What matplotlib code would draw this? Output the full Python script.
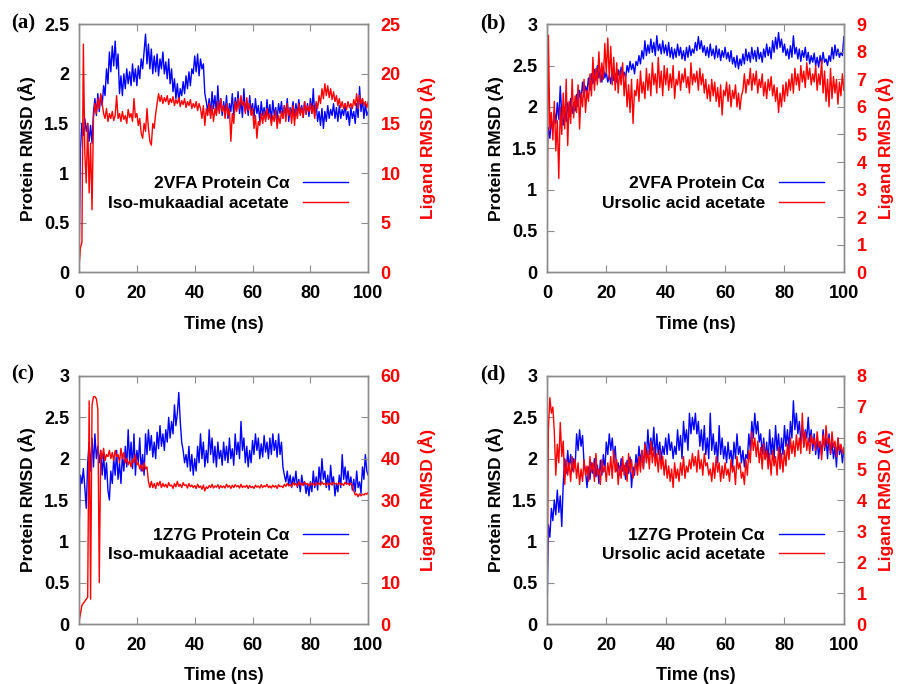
import numpy as np
import matplotlib.pyplot as plt
from matplotlib.ticker import FormatStrFormatter

plt.rcParams['font.family'] = ['Liberation Sans', 'DejaVu Sans']
plt.rcParams['font.weight'] = 'bold'
plt.rcParams['axes.labelweight'] = 'bold'

# time axis, one frame read every 0.5 ns
time_ns = np.arange(0, 100.5, 0.5)

# (a) 2VFA / Iso-mukaadial acetate
a_protein = [
    0.00, 1.25, 1.50, 1.38, 1.55, 1.42, 1.50, 1.32, 1.48, 1.30, 1.62, 1.75, 1.58, 1.80, 1.62, 1.78, 1.68, 1.88, 1.78, 2.05,
    1.90, 2.22, 2.02, 2.28, 2.08, 2.33, 2.05, 2.20, 1.80, 1.98, 1.78, 2.00, 1.85, 2.05, 1.90, 2.02, 1.88, 2.10, 1.92, 2.05,
    1.88, 2.08, 1.95, 2.15, 2.05, 2.22, 2.40, 2.10, 2.30, 2.05, 2.25, 2.00, 2.18, 2.02, 2.20, 1.98, 2.15, 2.05, 2.22, 2.00,
    2.12, 1.95, 2.15, 1.90, 2.05, 1.82, 1.95, 1.75, 1.90, 1.72, 1.85, 1.78, 1.92, 1.80, 1.98, 1.85, 2.02, 1.88, 2.05, 2.00,
    2.18, 2.02, 2.20, 1.98, 2.15, 2.05, 2.10, 1.80, 1.72, 1.62, 1.75, 1.58, 1.82, 1.65, 1.78, 1.60, 1.88, 1.62, 1.75, 1.58,
    1.72, 1.60, 1.78, 1.55, 1.70, 1.62, 1.80, 1.58, 1.76, 1.64, 1.82, 1.60, 1.74, 1.56, 1.85, 1.62, 1.72, 1.58, 1.78, 1.62,
    1.70, 1.55, 1.75, 1.60, 1.68, 1.52, 1.72, 1.58, 1.66, 1.54, 1.74, 1.57, 1.69, 1.52, 1.73, 1.58, 1.66, 1.54, 1.70, 1.60,
    1.72, 1.55, 1.68, 1.58, 1.75, 1.52, 1.66, 1.60, 1.72, 1.55, 1.70, 1.58, 1.74, 1.60, 1.68, 1.56, 1.72, 1.59, 1.70, 1.57,
    1.75, 1.60, 1.85, 1.58, 1.70, 1.52, 1.62, 1.48, 1.65, 1.45, 1.62, 1.52, 1.68, 1.55, 1.64, 1.58, 1.70, 1.55, 1.66, 1.52,
    1.68, 1.55, 1.64, 1.58, 1.70, 1.54, 1.62, 1.48, 1.66, 1.55, 1.62, 1.50, 1.70, 1.56, 1.87, 1.62, 1.75, 1.55, 1.70, 1.58,
    1.62,
]
a_ligand = [
    0.5, 2.5, 3.0, 23.0, 12.0, 9.0, 15.0, 8.0, 13.0, 6.3, 15.5, 17.0, 16.0, 17.5, 16.5, 18.0, 17.0, 16.0, 15.5, 16.5,
    15.2, 16.0, 15.5, 16.2, 15.3, 15.8, 17.8, 15.5, 16.0, 15.2, 16.2, 15.4, 15.8, 15.0, 16.4, 15.6, 16.0, 15.2, 17.5, 15.6,
    16.0, 14.8, 15.5, 14.0, 13.5, 15.0, 14.2, 16.5, 14.5, 13.2, 12.8, 15.0, 14.5, 16.0, 17.0, 18.0, 17.2, 17.8, 17.0, 17.6,
    17.2, 17.8, 16.9, 17.5, 17.1, 17.7, 16.8, 17.4, 17.0, 17.6, 16.7, 17.3, 16.9, 17.5, 16.6, 17.2, 16.8, 17.4, 16.5, 17.0,
    16.6, 17.2, 16.3, 17.0, 16.5, 15.5, 16.8, 14.8, 16.5, 15.8, 17.0, 15.5, 16.8, 15.2, 16.5, 15.8, 17.2, 16.0, 17.5, 16.2,
    16.8, 15.5, 17.0, 15.8, 16.5, 13.2, 16.0, 15.0, 17.2, 16.2, 17.5, 16.5, 17.8, 16.8, 17.2, 16.0, 17.6, 16.3, 17.0, 15.8,
    16.5, 14.5, 15.8, 13.5, 15.2, 14.8, 16.0, 15.0, 16.2, 15.2, 16.5, 15.4, 16.0, 14.8, 15.8, 15.2, 16.3, 14.5, 15.8, 15.0,
    16.2, 15.5, 16.8, 15.2, 17.0, 15.8, 16.5, 15.0, 16.8, 14.8, 16.5, 15.5, 17.0, 15.8, 16.6, 15.6, 17.2, 16.0, 16.8, 16.2,
    17.0, 16.0, 16.8, 15.5, 17.2, 16.5, 17.8, 17.0, 18.5, 17.5, 19.0, 17.8, 18.8, 17.6, 18.5, 17.4, 18.2, 17.2, 17.8, 16.8,
    17.5, 16.6, 17.2, 16.5, 17.0, 16.4, 17.2, 16.6, 17.0, 16.5, 17.4, 16.8, 18.0, 16.5, 17.8, 17.0, 17.5, 16.8, 17.2, 16.6,
    17.2,
]

# (b) 2VFA / Ursolic acid acetate
b_protein = [
    1.50, 1.75, 1.62, 1.85, 1.70, 1.95, 1.80, 2.05, 1.85, 2.25, 1.90, 1.78, 2.00, 1.82, 2.05, 1.88, 2.10, 1.92, 2.05, 1.95,
    2.15, 2.00, 2.20, 2.08, 2.30, 2.12, 2.25, 2.18, 2.35, 2.20, 2.40, 2.28, 2.45, 2.32, 2.50, 2.35, 2.45, 2.30, 2.48, 2.35,
    2.42, 2.30, 2.38, 2.28, 2.45, 2.32, 2.40, 2.30, 2.45, 2.35, 2.48, 2.38, 2.42, 2.35, 2.50, 2.42, 2.55, 2.45, 2.52, 2.40,
    2.55, 2.50, 2.62, 2.52, 2.68, 2.58, 2.80, 2.62, 2.75, 2.65, 2.82, 2.66, 2.78, 2.62, 2.86, 2.68, 2.76, 2.64, 2.80, 2.65,
    2.75, 2.62, 2.78, 2.60, 2.72, 2.58, 2.70, 2.60, 2.76, 2.62, 2.72, 2.58, 2.68, 2.56, 2.72, 2.60, 2.74, 2.62, 2.70, 2.65,
    2.78, 2.68, 2.85, 2.70, 2.80, 2.66, 2.74, 2.62, 2.72, 2.60, 2.76, 2.62, 2.70, 2.58, 2.74, 2.60, 2.70, 2.56, 2.68, 2.60,
    2.72, 2.58, 2.66, 2.55, 2.68, 2.52, 2.60, 2.48, 2.62, 2.46, 2.58, 2.50, 2.64, 2.52, 2.70, 2.56, 2.66, 2.54, 2.72, 2.58,
    2.68, 2.55, 2.72, 2.58, 2.66, 2.54, 2.70, 2.60, 2.76, 2.62, 2.72, 2.58, 2.80, 2.66, 2.84, 2.70, 2.90, 2.72, 2.82, 2.66,
    2.76, 2.62, 2.70, 2.58, 2.74, 2.60, 2.86, 2.64, 2.72, 2.58, 2.70, 2.55, 2.68, 2.60, 2.72, 2.56, 2.66, 2.52, 2.62, 2.54,
    2.65, 2.50, 2.60, 2.48, 2.62, 2.52, 2.66, 2.54, 2.58, 2.50, 2.62, 2.55, 2.72, 2.58, 2.75, 2.62, 2.70, 2.60, 2.66, 2.62,
    2.85,
]
b_ligand = [
    0.0, 8.6, 5.2, 5.8, 4.8, 6.2, 4.4, 5.5, 3.4, 6.0, 5.0, 6.5, 5.2, 7.0, 4.6, 6.2, 5.4, 7.0, 5.6, 6.4,
    5.8, 6.8, 5.2, 6.5, 6.0, 7.0, 5.8, 6.6, 6.2, 7.2, 6.4, 7.8, 6.6, 7.4, 6.8, 8.0, 6.9, 7.6, 7.0, 8.3,
    7.2, 8.5, 7.0, 8.2, 6.8, 7.8, 6.6, 7.6, 6.5, 7.3, 6.8, 7.6, 6.4, 7.2, 6.0, 6.8, 5.8, 7.0, 5.4, 6.6,
    6.4, 7.0, 6.2, 7.3, 6.5, 6.9, 6.3, 7.4, 6.6, 7.2, 6.4, 7.6, 6.8, 7.2, 6.5, 7.8, 6.7, 7.3, 6.4, 7.5,
    6.8, 7.4, 6.6, 7.2, 6.7, 7.5, 6.3, 7.0, 6.8, 7.3, 6.6, 7.2, 6.9, 7.4, 6.7, 7.1, 6.5, 7.6, 6.8, 7.2,
    6.9, 7.3, 6.6, 7.4, 6.8, 7.2, 6.5, 7.0, 6.3, 6.8, 6.2, 7.0, 6.4, 6.9, 6.2, 6.7, 6.0, 6.8, 5.7, 6.6,
    6.4, 6.9, 6.2, 6.8, 6.0, 6.6, 6.3, 6.8, 6.0, 6.5, 5.9, 6.4, 6.6, 7.2, 6.5, 7.0, 6.8, 7.4, 6.6, 7.2,
    6.8, 7.3, 6.5, 7.0, 6.7, 7.2, 6.4, 6.9, 6.3, 7.0, 6.6, 7.1, 6.4, 6.8, 6.2, 6.7, 5.8, 6.5, 6.0, 6.8,
    6.2, 6.9, 6.4, 7.0, 6.6, 7.2, 6.5, 7.4, 6.8, 7.2, 6.6, 7.5, 6.9, 7.3, 6.7, 7.6, 7.0, 7.4, 6.8, 7.2,
    6.9, 7.5, 6.6, 7.2, 6.8, 7.7, 6.5, 7.3, 6.2, 7.0, 6.0, 7.4, 6.3, 7.1, 6.5, 7.0, 6.1, 6.9, 6.4, 7.2,
    6.6,
]

# (c) 1Z7G / Iso-mukaadial acetate
c_protein = [
    1.10, 1.80, 1.70, 1.88, 1.65, 1.40, 1.95, 2.20, 1.85, 2.25, 1.90, 2.30, 2.00, 2.15, 1.95, 2.10, 1.80, 2.05, 1.75, 1.95,
    1.62, 1.50, 1.85, 1.70, 2.00, 1.80, 2.10, 1.75, 1.95, 1.70, 2.05, 1.85, 2.15, 1.90, 2.35, 1.95, 2.20, 1.88, 2.30, 1.80,
    2.10, 1.95, 2.25, 1.85, 2.05, 1.80, 2.30, 2.05, 2.35, 2.10, 2.28, 2.02, 2.20, 2.00, 2.32, 2.12, 2.40, 2.15, 2.30, 2.10,
    2.35, 2.20, 2.50, 2.25, 2.45, 2.30, 2.65, 2.40, 2.55, 2.80, 2.45, 2.20, 2.10, 1.95, 2.05, 1.90, 2.15, 1.85, 2.05, 1.80,
    2.00, 1.85, 2.15, 1.95, 2.30, 2.00, 2.20, 1.90, 2.10, 1.95, 2.35, 2.05, 2.25, 1.95, 2.15, 1.90, 2.20, 2.00, 2.10, 1.92,
    2.20, 1.98, 2.15, 1.95, 2.25, 2.00, 2.12, 1.92, 2.30, 2.05, 2.20, 2.00, 2.45, 2.10, 2.25, 1.95, 2.15, 1.90, 2.10, 1.95,
    2.22, 2.05, 2.30, 2.10, 2.25, 2.00, 2.18, 2.02, 2.28, 2.08, 2.20, 2.00, 2.25, 2.05, 2.30, 2.10, 2.22, 2.02, 2.30, 2.05,
    2.20, 1.90, 1.80, 1.72, 1.85, 1.68, 1.80, 1.65, 1.78, 1.70, 1.85, 1.65, 1.75, 1.60, 1.80, 1.68, 1.72, 1.58, 1.70, 1.55,
    1.72, 1.60, 1.85, 1.65, 1.78, 1.62, 1.90, 1.70, 2.00, 1.75, 1.85, 1.65, 1.80, 1.62, 1.92, 1.70, 1.78, 1.55, 1.70, 1.60,
    1.80, 1.65, 2.05, 1.75, 1.90, 1.70, 1.85, 1.68, 1.78, 1.62, 1.75, 1.60, 1.85, 1.65, 1.72, 1.58, 1.90, 1.75, 2.05, 1.85,
    1.80,
]
c_ligand = [
    0.5, 2.5, 4.5, 5.0, 5.5, 6.0, 6.5, 54.0, 6.0, 53.0, 55.0, 55.0, 54.5, 52.0, 10.0, 42.0, 40.0, 42.5, 39.5, 41.0,
    40.5, 42.0, 40.0, 41.5, 39.5, 42.0, 40.5, 41.0, 39.0, 42.5, 40.0, 41.5, 39.0, 40.0, 38.5, 39.5, 38.0, 40.0, 39.0, 41.0,
    38.5, 39.0, 37.5, 38.5, 37.0, 39.0, 37.5, 38.0, 34.5, 33.0, 34.5, 33.0, 34.0, 32.8, 34.2, 33.5, 34.5, 33.0, 34.0, 33.2,
    33.8, 33.0, 34.2, 33.4, 33.6, 32.8, 34.0, 33.2, 34.5, 33.3, 33.8, 33.0, 34.2, 33.5, 33.7, 32.9, 34.0, 33.2, 33.6, 33.0,
    33.5, 32.8, 33.8, 33.0, 33.4, 32.6, 33.6, 32.2, 33.2, 32.8, 33.5, 33.0, 33.8, 32.9, 33.4, 33.1, 33.7, 32.8, 33.5, 33.0,
    33.4, 32.9, 33.8, 33.1, 33.5, 32.8, 33.6, 33.0, 33.7, 33.2, 33.5, 32.9, 33.8, 33.0, 33.4, 33.1, 33.6, 32.8, 33.5, 33.0,
    33.3, 32.8, 33.6, 33.1, 33.4, 32.9, 33.7, 33.0, 33.5, 33.2, 33.8, 33.0, 33.4, 32.9, 33.6, 33.1, 33.5, 32.8, 33.7, 33.2,
    33.4, 33.0, 33.8, 33.3, 34.0, 33.4, 33.8, 33.2, 34.2, 33.6, 34.0, 33.3, 34.4, 33.6, 34.1, 33.5, 34.3, 33.8, 34.0, 33.4,
    34.2, 33.6, 34.0, 33.5, 34.3, 33.7, 34.1, 33.6, 34.4, 33.8, 34.0, 33.5, 34.2, 33.7, 34.1, 33.6, 34.3, 33.9, 34.0, 33.6,
    34.2, 33.7, 34.0, 33.5, 34.3, 33.8, 34.1, 33.6, 34.1, 33.5, 32.2, 31.2, 31.5, 30.8, 31.5, 31.0, 31.4, 31.2, 31.6, 31.4,
    31.8,
]

# (d) 1Z7G / Ursolic acid acetate
d_protein = [
    0.00, 1.20, 1.05, 1.40, 1.25, 1.50, 1.32, 1.62, 1.35, 1.55, 1.18, 1.70, 2.00, 1.82, 2.10, 1.88, 2.05, 1.85, 2.00, 1.90,
    2.30, 2.10, 2.35, 2.15, 2.28, 1.95, 1.85, 1.65, 1.90, 1.75, 1.95, 1.82, 2.00, 1.78, 1.92, 1.70, 1.98, 1.80, 2.05, 1.85,
    2.20, 2.05, 2.30, 2.10, 2.25, 2.00, 2.15, 1.85, 1.95, 1.80, 2.00, 1.85, 1.92, 1.75, 1.98, 1.82, 2.02, 1.65, 1.90, 1.80,
    2.05, 1.90, 2.15, 1.95, 2.10, 1.88, 2.20, 2.00, 2.35, 2.05, 2.25, 2.10, 2.38, 2.00, 2.30, 2.05, 2.20, 1.98, 2.15, 2.05,
    2.25, 2.05, 2.30, 2.10, 2.20, 2.00, 2.15, 2.05, 2.35, 2.10, 2.28, 2.00, 2.45, 2.20, 2.35, 2.10, 2.55, 2.30, 2.50, 2.35,
    2.55, 2.30, 2.45, 2.15, 2.35, 2.10, 2.40, 2.05, 2.25, 2.00, 2.55, 2.10, 2.30, 2.05, 2.20, 1.95, 2.40, 2.05, 2.25, 2.00,
    2.15, 1.95, 2.20, 2.00, 2.10, 1.90, 2.20, 2.00, 2.30, 2.05, 2.15, 1.95, 2.10, 1.90, 2.05, 2.00, 2.30, 2.10, 2.45, 2.25,
    2.55, 2.30, 2.45, 2.20, 2.30, 2.05, 2.25, 2.00, 2.20, 1.95, 2.35, 2.05, 2.25, 2.00, 2.40, 2.10, 2.30, 2.00, 2.25, 2.05,
    2.40, 2.15, 2.35, 2.10, 2.45, 2.25, 2.70, 2.35, 2.55, 2.30, 2.45, 2.20, 2.40, 2.15, 2.35, 2.25, 2.50, 2.20, 2.35, 2.10,
    2.30, 2.05, 2.25, 2.00, 2.20, 2.05, 2.35, 2.10, 2.25, 2.00, 2.30, 2.05, 2.20, 2.00, 2.15, 1.90, 2.25, 2.05, 2.15, 1.95,
    2.10,
]
d_ligand = [
    0.0, 6.3, 7.3, 6.8, 7.0, 6.2, 4.8, 5.8, 5.2, 6.5, 5.4, 5.9, 4.5, 5.3, 4.8, 5.2, 4.6, 5.4, 4.9, 5.3,
    4.7, 5.2, 4.5, 5.0, 4.6, 5.3, 4.8, 5.1, 4.6, 5.4, 4.9, 5.2, 4.6, 5.5, 4.8, 5.0, 4.5, 5.3, 4.9, 5.1,
    4.6, 5.2, 4.8, 5.4, 4.7, 5.6, 4.9, 5.3, 4.5, 5.1, 4.7, 5.4, 4.8, 5.2, 4.6, 5.5, 4.9, 5.3, 4.7, 5.0,
    5.2, 4.8, 5.4, 4.9, 5.6, 5.0, 5.8, 5.2, 5.6, 5.0, 5.9, 5.2, 5.7, 5.1, 5.5, 4.9, 5.6, 5.0, 5.4, 4.8,
    5.3, 4.7, 5.1, 4.6, 5.0, 4.4, 5.2, 4.7, 5.0, 4.6, 5.2, 4.8, 5.4, 4.7, 5.1, 4.9, 5.3, 5.0, 5.5, 5.1,
    5.4, 4.9, 5.6, 5.0, 5.3, 4.8, 5.5, 5.1, 5.2, 4.8, 5.0, 4.6, 5.2, 4.7, 5.4, 4.9, 5.2, 4.6, 5.1, 4.7,
    5.2, 4.8, 5.0, 4.6, 5.3, 4.9, 5.1, 4.5, 5.4, 5.0, 5.2, 4.7, 4.9, 4.5, 5.3, 4.8, 5.6, 5.2, 6.2, 5.6,
    6.0, 5.4, 5.9, 5.2, 5.7, 5.0, 5.8, 5.3, 5.6, 5.0, 5.5, 4.8, 5.6, 5.1, 5.4, 4.8, 5.7, 5.0, 5.5, 4.9,
    5.6, 5.1, 5.8, 5.3, 6.0, 5.5, 5.9, 5.4, 6.1, 5.6, 6.0, 5.5, 6.8, 5.7, 6.2, 5.6, 6.0, 5.5, 6.1, 5.8,
    6.0, 5.6, 6.2, 5.7, 5.9, 5.3, 6.1, 5.7, 6.4, 5.8, 6.0, 5.5, 6.2, 5.7, 5.9, 5.4, 6.0, 5.6, 5.8, 5.5,
    5.7,
]

panel_tags = ['(a)', '(b)', '(c)', '(d)']
protein_names = ['2VFA Protein Cα', '2VFA Protein Cα', '1Z7G Protein Cα', '1Z7G Protein Cα']
ligand_names = ['Iso-mukaadial acetate', 'Ursolic acid acetate', 'Iso-mukaadial acetate', 'Ursolic acid acetate']
protein_data = [a_protein, b_protein, c_protein, d_protein]
ligand_data = [a_ligand, b_ligand, c_ligand, d_ligand]
protein_max = [2.5, 3, 3, 3]
ligand_max = [25, 9, 60, 8]
ligand_step = [5, 1, 10, 1]

# axes boxes in figure fractions (left, bottom, width, height)
boxes = [
    [0.0877, 0.602, 0.321, 0.3626],
    [0.607, 0.602, 0.3296, 0.3626],
    [0.0877, 0.0877, 0.321, 0.3626],
    [0.607, 0.0877, 0.3296, 0.3626],
]
tag_pos = [(0.012, 0.966), (0.533, 0.966), (0.012, 0.452), (0.533, 0.452)]
right_pad = [12, 7, 12, 7]

spine_grey = '#8c8c8c'
fs = 13

fig = plt.figure(figsize=(9.01, 6.84), dpi=100)

for i in range(4):
    ax = fig.add_axes(boxes[i])
    ax2 = ax.twinx()

    l1, = ax.plot(time_ns, protein_data[i], color='#0000ff', lw=1.0)
    l2, = ax2.plot(time_ns, ligand_data[i], color='#ff0000', lw=1.0)

    ax.set_xlim(0, 100)
    ax.set_ylim(0, protein_max[i])
    ax2.set_ylim(0, ligand_max[i])
    ax.set_xticks(np.arange(0, 101, 20))
    ax.set_yticks(np.arange(0, protein_max[i] + 0.01, 0.5))
    ax2.set_yticks(np.arange(0, ligand_max[i] + 0.01, ligand_step[i]))
    ax.yaxis.set_major_formatter(FormatStrFormatter('%g'))

    ax.tick_params(axis='both', direction='in', length=5, width=0.8, color=spine_grey,
                   labelsize=fs, pad=7, top=True)
    ax.tick_params(axis='x', pad=9)
    ax2.tick_params(axis='y', direction='in', length=5, width=0.8, color=spine_grey,
                    labelsize=fs, labelcolor='#ff0000', pad=9)
    for a in (ax, ax2):
        for s in a.spines.values():
            s.set_color(spine_grey)
            s.set_linewidth(1.0)

    ax.set_xlabel('Time (ns)', fontsize=fs, labelpad=10)
    ax.set_ylabel('Protein RMSD (Å)', fontsize=12.5, labelpad=6)
    ax2.set_ylabel('Ligand RMSD (Å)', fontsize=12.5, color='#ff0000', labelpad=right_pad[i])

    ax2.legend([l1, l2], [protein_names[i], ligand_names[i]], loc='center right',
               bbox_to_anchor=(0.985, 0.318), frameon=False, fontsize=12.5,
               markerfirst=False, handlelength=2.6, handletextpad=0.8,
               labelspacing=0.25)

    fig.text(tag_pos[i][0], tag_pos[i][1], panel_tags[i], family='Liberation Serif',
             fontweight='bold', fontsize=15, va='center')

fig.savefig('out.png', dpi=100)
